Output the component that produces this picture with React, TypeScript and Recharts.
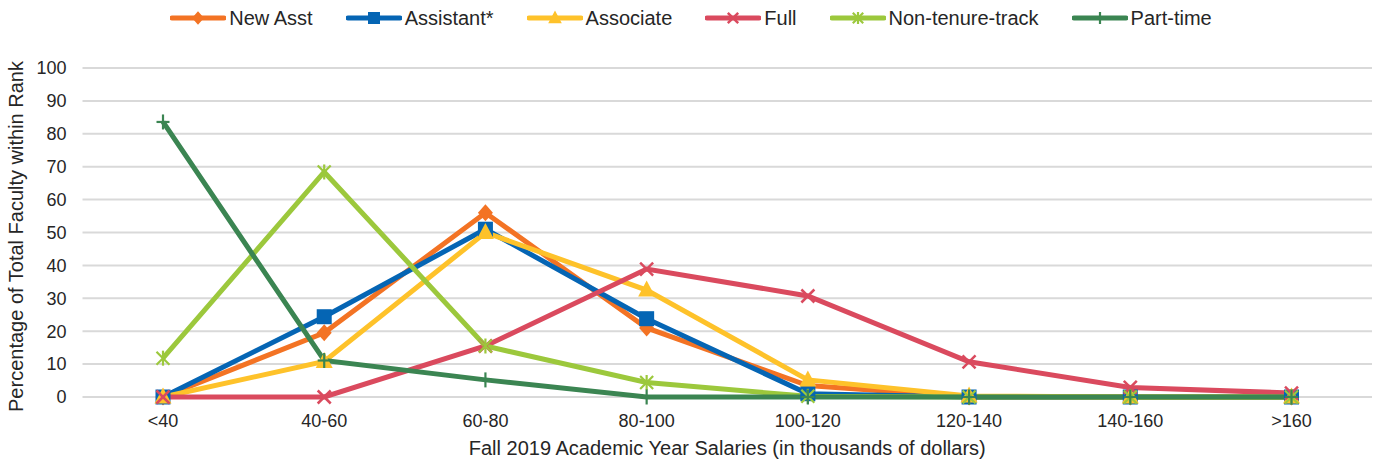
import { LineChart, Line, XAxis, YAxis, CartesianGrid, Legend } from 'recharts'

const categories = ['<40', '40-60', '60-80', '80-100', '100-120', '120-140', '140-160', '>160']
const newAsst = [0, 19.5, 56, 21, 3.5, 0, 0, 0]
const assistant = [0, 24.4, 51, 23.8, 1, 0, 0, 0]
const associate = [0, 10.8, 50, 32.5, 5.2, 0.3, 0, 0]
const full = [0, 0, 15.5, 38.9, 30.7, 10.7, 2.9, 1.2]
const nonTenure = [11.8, 68.4, 15.5, 4.4, 0.2, 0, 0, 0]
const partTime = [83.6, 11.1, 5.2, 0, 0, 0, 0, 0]
const yTicks = [0, 10, 20, 30, 40, 50, 60, 70, 80, 90, 100]

const data = categories.map((c, i) => ({
  cat: c,
  newAsst: newAsst[i],
  assistant: assistant[i],
  associate: associate[i],
  full: full[i],
  nonTenure: nonTenure[i],
  partTime: partTime[i],
}))

const FONT = '"Liberation Sans", Arial, sans-serif'
const TEXT = '#262626'

type Kind = 'diamond' | 'square' | 'triangle' | 'x' | 'asterisk' | 'plus'

const series: { key: string; name: string; color: string; kind: Kind }[] = [
  { key: 'newAsst', name: 'New Asst', color: '#f37324', kind: 'diamond' },
  { key: 'assistant', name: 'Assistant*', color: '#0565b4', kind: 'square' },
  { key: 'associate', name: 'Associate', color: '#fec22a', kind: 'triangle' },
  { key: 'full', name: 'Full', color: '#da4a5e', kind: 'x' },
  { key: 'nonTenure', name: 'Non-tenure-track', color: '#9cc83c', kind: 'asterisk' },
  { key: 'partTime', name: 'Part-time', color: '#3b8552', kind: 'plus' },
]

const Marker = ({ cx, cy, kind, color, s = 1 }: { cx: number; cy: number; kind: Kind; color: string; s?: number }) => {
  if (cx == null || cy == null) return null
  switch (kind) {
    case 'diamond':
      return <polygon points={`${cx},${cy - 8.5 * s} ${cx + 7.5 * s},${cy} ${cx},${cy + 8.5 * s} ${cx - 7.5 * s},${cy}`} fill={color} />
    case 'square':
      return <rect x={cx - 7.5 * s} y={cy - 7.5 * s} width={15 * s} height={15 * s} fill={color} />
    case 'triangle':
      return <polygon points={`${cx},${cy - 9.5 * s} ${cx + 8.5 * s},${cy + 6.5 * s} ${cx - 8.5 * s},${cy + 6.5 * s}`} fill={color} />
    case 'x':
      return (
        <g stroke={color} strokeWidth={2.5}>
          <line x1={cx - 6.5 * s} y1={cy - 6.5 * s} x2={cx + 6.5 * s} y2={cy + 6.5 * s} />
          <line x1={cx - 6.5 * s} y1={cy + 6.5 * s} x2={cx + 6.5 * s} y2={cy - 6.5 * s} />
        </g>
      )
    case 'asterisk':
      return (
        <g stroke={color} strokeWidth={2.2}>
          <line x1={cx - 6.5 * s} y1={cy - 6.5 * s} x2={cx + 6.5 * s} y2={cy + 6.5 * s} />
          <line x1={cx - 6.5 * s} y1={cy + 6.5 * s} x2={cx + 6.5 * s} y2={cy - 6.5 * s} />
          <line x1={cx} y1={cy - 7.5 * s} x2={cx} y2={cy + 7.5 * s} />
        </g>
      )
    case 'plus':
      return (
        <g stroke={color} strokeWidth={2.2}>
          <line x1={cx} y1={cy - 7.5 * s} x2={cx} y2={cy + 7.5 * s} />
          <line x1={cx - 6.5 * s} y1={cy} x2={cx + 6.5 * s} y2={cy} />
        </g>
      )
  }
  return null
}

const LegendContent = () => (
  <div style={{ display: 'flex', justifyContent: 'center', alignItems: 'center', height: 36, fontFamily: FONT, fontSize: 20, color: TEXT }}>
    {series.map((s, i) => (
      <div key={s.key} style={{ display: 'flex', alignItems: 'center', marginLeft: i === 0 ? 0 : 33 }}>
        <svg width={56} height={20}>
          <line x1={2} y1={10} x2={54} y2={10} stroke={s.color} strokeWidth={5} strokeLinecap="round" />
          <Marker cx={28} cy={10} kind={s.kind} color={s.color} s={0.8} />
        </svg>
        <span style={{ marginLeft: 3 }}>{s.name}</span>
      </div>
    ))}
  </div>
)

const App = () => {
  return (
    <div style={{ position: 'absolute', left: 0, top: 0 }}>
      <LineChart width={1382} height={462} data={data} margin={{ top: 32, right: 10, bottom: 0, left: 0 }}>
        <CartesianGrid vertical={false} stroke="#d9d9d9" strokeWidth={2} />
        <XAxis
          dataKey="cat"
          height={65}
          padding={{ left: 80.5, right: 80.5 }}
          axisLine={false}
          tickLine={false}
          tickMargin={11}
          tick={{ fontSize: 18, fill: TEXT, fontFamily: FONT }}
          label={{ value: 'Fall 2019 Academic Year Salaries (in thousands of dollars)', position: 'insideBottom', offset: 7, style: { fontSize: 20, fill: TEXT, fontFamily: FONT } }}
        />
        <YAxis
          width={82.5}
          domain={[0, 100]}
          ticks={yTicks}
          axisLine={false}
          tickLine={false}
          tickMargin={10}
          tick={{ fontSize: 18, fill: TEXT, fontFamily: FONT }}
          label={{ value: 'Percentage of Total Faculty within Rank', angle: -90, position: 'insideLeft', offset: 16, dy: 4, style: { textAnchor: 'middle', fontSize: 20, fill: TEXT, fontFamily: FONT } }}
        />
        <Legend verticalAlign="top" wrapperStyle={{ top: 0, left: 0, width: 1382 }} content={() => <LegendContent />} />
        {series.map((s) => (
          <Line
            key={s.key}
            type="linear"
            dataKey={s.key}
            name={s.name}
            stroke={s.color}
            strokeWidth={5}
            isAnimationActive={false}
            dot={(p: any) => <Marker key={`${s.key}-${p.index}`} cx={p.cx} cy={p.cy} kind={s.kind} color={s.color} />}
            activeDot={false}
          />
        ))}
      </LineChart>
    </div>
  )
}

export default App
